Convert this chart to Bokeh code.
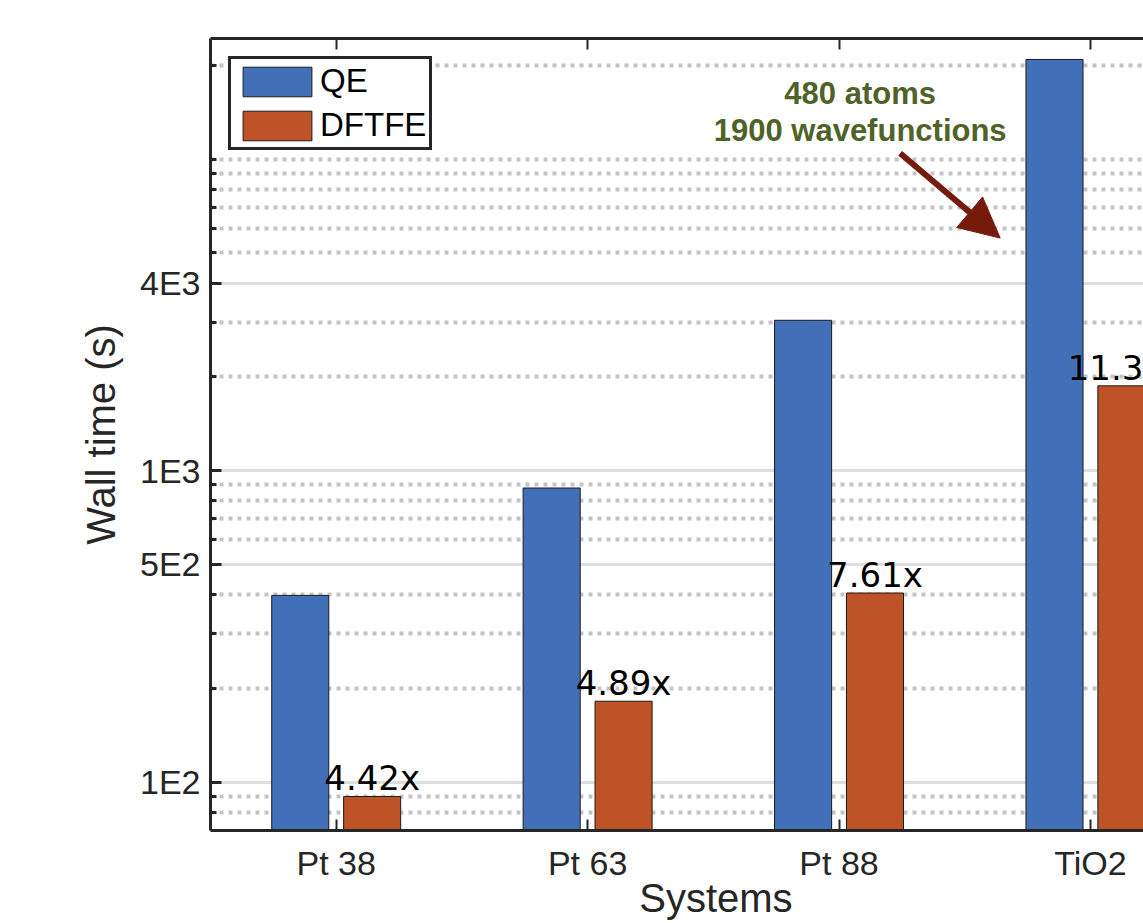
from bokeh.plotting import figure
from bokeh.models import Range1d, FixedTicker, LinearAxis, Label, Arrow, NormalHead, ColumnDataSource
from bokeh.core.properties import value
from bokeh.embed import file_html
from bokeh.resources import INLINE

# ---- data ----
systems = ["Pt 38", "Pt 63", "Pt 88", "TiO2"]
qe_time = [398, 880, 3040, 20900]
dftfe_time = [90, 182, 405, 1873]
speedup_labels = ["4.42x", "4.89x", "7.61x", "11.35x"]
y_major_ticks = [100, 500, 1000, 4000]
y_major_labels = ["1E2", "5E2", "1E3", "4E3"]
y_minor_ticks = [80, 90, 200, 300, 400, 600, 700, 800, 900, 2000, 3000,
                 5000, 6000, 7000, 8000, 9000, 10000, 20000]
note_lines = ["480 atoms", "1900 wavefunctions"]
x_title = "Systems"
y_title = "Wall time (s)"

QE_COLOR = "#4170B9"
DF_COLOR = "#BE5327"
AX_COLOR = "#262626"
FONT = "Liberation Sans"

n = len(systems)
pos = [i + 1 for i in range(n)]
off = 0.143
bw = 0.227

src = ColumnDataSource(dict(
    x_qe=[x - off for x in pos],
    x_df=[x + off for x in pos],
    qe=qe_time,
    df=dftfe_time,
    lab=speedup_labels,
))

p = figure(width=1143, height=923, y_axis_type="log",
           x_range=Range1d(0.5, 4.211), y_range=Range1d(70, 24400),
           output_backend="svg", toolbar_location=None,
           min_border_left=210, min_border_right=0,
           min_border_top=38, min_border_bottom=93)
p.outline_line_color = None
p.background_fill_color = "white"
p.border_fill_color = "white"

p.vbar(x="x_qe", top="qe", bottom=1, width=bw, source=src,
       fill_color=QE_COLOR, line_color="#1a1a1a", line_width=1, legend_label="QE")
p.vbar(x="x_df", top="df", bottom=1, width=bw, source=src,
       fill_color=DF_COLOR, line_color="#1a1a1a", line_width=1, legend_label="DFTFE")

p.text(x="x_df", y="df", text="lab", source=src, text_align="center",
       text_baseline="alphabetic", y_offset=-18,
       text_font=value("DejaVu Sans"), text_font_size="34px", text_color="black")

# axes
xa = p.xaxis[0]
xa.ticker = FixedTicker(ticks=pos)
xa.major_label_overrides = {pos[i]: systems[i] for i in range(n)}
# the title sits right of the frame centre in the reference (its frame runs past the window)
xa.axis_label = "\u00a0" * 7 + x_title
ya = p.yaxis[0]
ya.ticker = FixedTicker(ticks=y_major_ticks, minor_ticks=y_minor_ticks)
ya.major_label_overrides = {y_major_ticks[i]: y_major_labels[i] for i in range(len(y_major_ticks))}
ya.axis_label = y_title

for ax in (xa, ya):
    ax.axis_line_width = 3
    ax.axis_line_color = AX_COLOR
    ax.major_tick_in = 11
    ax.major_tick_out = 0
    ax.major_tick_line_width = 3
    ax.major_tick_line_color = AX_COLOR
    ax.major_label_text_font = FONT
    ax.major_label_text_font_size = "34px"
    ax.major_label_text_color = AX_COLOR
    ax.axis_label_text_font = FONT
    ax.axis_label_text_font_size = "40px"
    ax.axis_label_text_font_style = "normal"
    ax.axis_label_text_color = AX_COLOR
xa.minor_tick_line_color = None
xa.major_tick_line_width = 2
xa.major_label_standoff = 13
xa.axis_label_standoff = -9
ya.minor_tick_in = 6
ya.minor_tick_out = 0
ya.minor_tick_line_width = 3
ya.minor_tick_line_color = AX_COLOR
ya.major_label_standoff = 10
ya.axis_label_standoff = 14

top = LinearAxis(ticker=FixedTicker(ticks=pos), major_label_text_font_size="10px",
                 major_label_text_color=None,
                 axis_line_width=3, axis_line_color=AX_COLOR,
                 major_tick_in=11, major_tick_out=0, major_tick_line_width=2,
                 major_tick_line_color=AX_COLOR, minor_tick_line_color=None,
                 major_label_standoff=0)
p.add_layout(top, "above")

# grids
p.xgrid.grid_line_color = None
p.ygrid.grid_line_color = "#dedede"
p.ygrid.grid_line_width = 3
p.ygrid.minor_grid_line_color = "#c4c4c4"
p.ygrid.minor_grid_line_width = 4
p.ygrid.minor_grid_line_dash = "4 5"

# legend
lg = p.legend[0]
lg.location = "top_left"
lg.margin = 18
lg.padding = 3
lg.spacing = 6
lg.glyph_width = 86
lg.glyph_height = 37
lg.label_standoff = 0
lg.label_text_font = FONT
lg.label_text_font_size = "33px"
lg.label_text_color = "black"
lg.border_line_width = 3
lg.border_line_color = AX_COLOR
lg.border_line_alpha = 1
lg.background_fill_alpha = 1

# annotation
GREEN = "#4F6228"
p.add_layout(Label(x=3.084, y=16275, text=note_lines[0], text_align="center",
                   text_baseline="alphabetic", text_font=FONT, text_font_style="bold",
                   text_font_size="31px", text_color=GREEN))
p.add_layout(Label(x=3.084, y=12385, text=note_lines[1], text_align="center",
                   text_baseline="alphabetic", text_font=FONT, text_font_style="bold",
                   text_font_size="31px", text_color=GREEN))
RED = "#761A0C"
p.add_layout(Arrow(end=NormalHead(size=40, fill_color=RED, line_color=RED),
                   x_start=3.243, y_start=10450, x_end=3.641, y_end=5581,
                   line_color=RED, line_width=6))

open("out.html", "w").write(file_html(p, INLINE))
